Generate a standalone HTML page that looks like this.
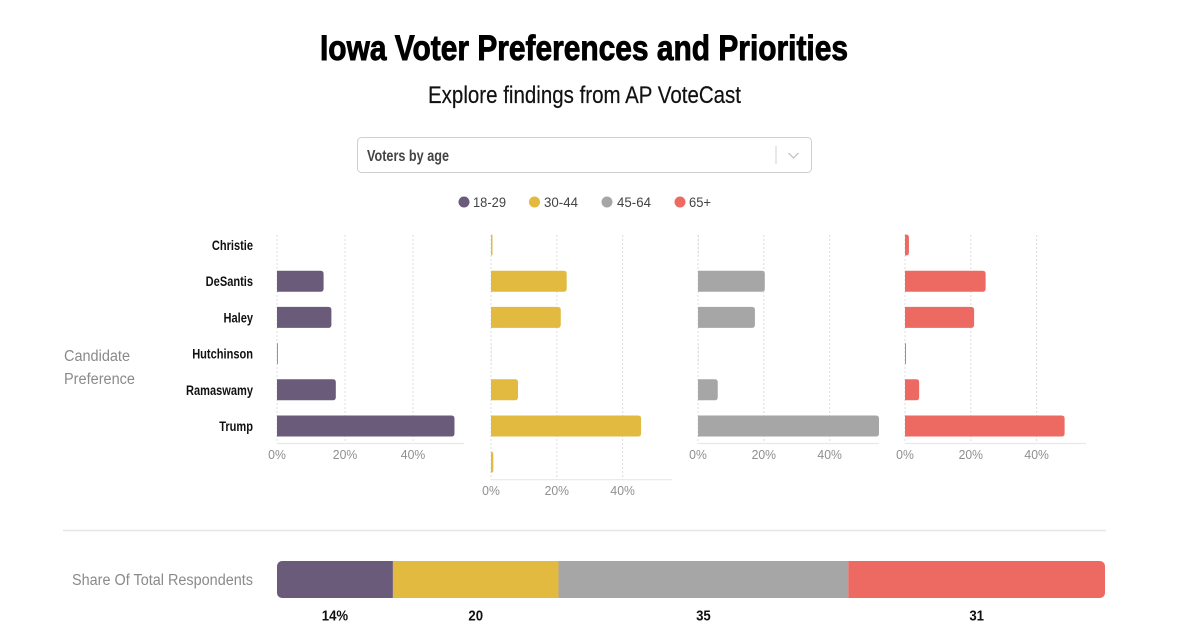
<!DOCTYPE html>
<html lang="en">
<head>
<meta charset="utf-8">
<title>Iowa Voter Preferences and Priorities</title>
<style>
html,body{margin:0;padding:0;background:#fff;width:1200px;height:636px;overflow:hidden}
svg{display:block;font-family:"Liberation Sans",sans-serif}
</style>
</head>
<body>
<svg id="chart" width="1200" height="636" viewBox="0 0 1200 636" xmlns="http://www.w3.org/2000/svg">
  <rect width="1200" height="636" fill="#fff"/>
  <text x="320" y="60" font-size="35" font-weight="700" fill="#000" stroke="#000" stroke-width=".9" textLength="528" lengthAdjust="spacingAndGlyphs">Iowa Voter Preferences and Priorities</text>
  <text x="428" y="103" font-size="24" fill="#111" stroke="#111" stroke-width=".2" textLength="313" lengthAdjust="spacingAndGlyphs">Explore findings from AP VoteCast</text>

  <g>
    <rect x="357.5" y="137.5" width="454" height="35" rx="4" fill="#fff" stroke="#cfcfcf"/>
    <text x="367" y="161" font-size="15.5" font-weight="700" fill="#444" textLength="82" lengthAdjust="spacingAndGlyphs">Voters by age</text>
    <line x1="776" x2="776" y1="146" y2="164" stroke="#d0d0d0"/>
    <path d="M788.5 153 L793.5 158 L798.5 153" fill="none" stroke="#c4c4c4" stroke-width="1.3"/>
  </g>

  <g>
    <g>
      <circle cx="464" cy="202" r="5.5" fill="#6a5b7b"/>
      <text x="473" y="207" font-size="14" fill="#444" textLength="33" lengthAdjust="spacingAndGlyphs">18-29</text>
    </g>
    <g>
      <circle cx="534.5" cy="202" r="5.5" fill="#e2ba3f"/>
      <text x="544" y="207" font-size="14" fill="#444" textLength="34" lengthAdjust="spacingAndGlyphs">30-44</text>
    </g>
    <g>
      <circle cx="607" cy="202" r="5.5" fill="#a6a6a6"/>
      <text x="617" y="207" font-size="14" fill="#444" textLength="34" lengthAdjust="spacingAndGlyphs">45-64</text>
    </g>
    <g>
      <circle cx="680" cy="202" r="5.5" fill="#ec6a61"/>
      <text x="689" y="207" font-size="14" fill="#444" textLength="22" lengthAdjust="spacingAndGlyphs">65+</text>
    </g>
  </g>

  <g font-size="15.5" fill="#8a8a8a">
    <text x="64" y="361" textLength="66" lengthAdjust="spacingAndGlyphs">Candidate</text>
    <text x="64" y="384" textLength="71" lengthAdjust="spacingAndGlyphs">Preference</text>
  </g>

  <g id="panels"></g>

  <line x1="63" x2="1106" y1="530.5" y2="530.5" stroke="#e6e6e6" stroke-width="1.5"/>

  <text x="72" y="585" font-size="15.5" fill="#8a8a8a" textLength="181" lengthAdjust="spacingAndGlyphs">Share Of Total Respondents</text>
  <clipPath id="shareClip"><rect x="277" y="561" width="828" height="37" rx="5"/></clipPath>
  <g id="share"></g>
</svg>

<script>
// ---- chart data ----
const categories = ["Christie", "DeSantis", "Haley", "Hutchinson", "Ramaswamy", "Trump"];
const groupNames = ["18-29", "30-44", "45-64", "65+"];
const values18to29 = [0, 13.7, 16, 0.2, 17.3, 52.2];
const values30to44 = [0.45, 23, 21.2, 0.05, 8.2, 45.6, 0.7];
const values45to64 = [0.05, 20.3, 17.3, 0.05, 6, 55];
const values65plus = [1.2, 24.5, 21, 0.3, 4.3, 48.5];
const tickValues = [0, 20, 40];
const shareValues = [14, 20, 35, 31];

// ---- styling and layout ----
const NS = "http://www.w3.org/2000/svg";
const palette = ["#6a5b7b", "#e2ba3f", "#a6a6a6", "#ec6a61"];
const allSeries = [values18to29, values30to44, values45to64, values65plus];
const panelLeft = [277, 491, 698, 905];
const panelWidth = [187, 181, 181, 181];
const domainMax = 55;
const rowTop = 245, rowStep = 36.2, barHeight = 21;
const shareLeft = 277, shareWidth = 828, shareTop = 561, shareHeight = 37;

function rowY(i) { return rowTop + i * rowStep; }
function xScale(p, v) { return panelLeft[p] + v / domainMax * panelWidth[p]; }
function svgEl(tag, attrs) {
  const el = document.createElementNS(NS, tag);
  for (const k in attrs) el.setAttribute(k, attrs[k]);
  return el;
}

const panelsRoot = document.getElementById("panels");

// candidate labels
categories.forEach(function (name, i) {
  const t = svgEl("text", {
    transform: "translate(253," + (rowY(i) + 5) + ") scale(.79,1)",
    "text-anchor": "end", "font-size": 14, "font-weight": 700, fill: "#111"
  });
  
  
  t.textContent = name;
  panelsRoot.appendChild(t);
});

allSeries.forEach(function (series, p) {
  const g = svgEl("g", {});
  
  
  panelsRoot.appendChild(g);

  const axisY = rowY(series.length - 1) + 17.5;

  tickValues.forEach(function (tick) {
    const x = xScale(p, tick);
    const grid = svgEl("line", {
      x1: x, x2: x, y1: 235, y2: axisY,
      stroke: "#dcdcdc", "stroke-width": 1, "stroke-dasharray": "2 2"
    });
    
    
    g.appendChild(grid);

    const label = svgEl("text", {
      transform: "translate(" + x + "," + (axisY + 15.5) + ") scale(.94,1)",
      "text-anchor": "middle", "font-size": 13, fill: "#8f8f8f"
    });
    
    
    label.textContent = tick + "%";
    g.appendChild(label);
  });

  const axis = svgEl("line", {
    x1: panelLeft[p], x2: panelLeft[p] + panelWidth[p], y1: axisY, y2: axisY,
    stroke: "#e8e8e8", "stroke-width": 1.2
  });
  
  
  g.appendChild(axis);

  series.forEach(function (v, i) {
    const x0 = xScale(p, 0);
    const w = xScale(p, v) - x0;
    const top = rowY(i) - barHeight / 2;
    const r = Math.min(3, w);
    const d = "M" + x0 + " " + top +
      " H" + (x0 + w - r) +
      " Q" + (x0 + w) + " " + top + " " + (x0 + w) + " " + (top + r) +
      " V" + (top + barHeight - r) +
      " Q" + (x0 + w) + " " + (top + barHeight) + " " + (x0 + w - r) + " " + (top + barHeight) +
      " H" + x0 + " Z";
    const bar = svgEl("path", { d: d, fill: palette[p] });
    
    
    g.appendChild(bar);
  });
});

// share stacked bar
const shareRoot = document.getElementById("share");
const shareTotal = shareValues.reduce(function (a, b) { return a + b; }, 0);
function shareX(v) { return shareLeft + v / shareTotal * shareWidth; }
let cumulative = 0;
shareValues.forEach(function (v, i) {
  const x = shareX(cumulative);
  const w = shareX(cumulative + v) - x;
  const seg = svgEl("rect", {
    x: x, y: shareTop, width: w, height: shareHeight,
    fill: palette[i], "clip-path": "url(#shareClip)"
  });
  
  
  shareRoot.appendChild(seg);

  const lab = svgEl("text", {
    transform: "translate(" + (x + w / 2) + ",620.5) scale(.88,1)",
    "text-anchor": "middle", "font-size": 15, "font-weight": 700, fill: "#111"
  });
  
  
  lab.textContent = i === 0 ? v + "%" : String(v);
  shareRoot.appendChild(lab);
  cumulative += v;
});
</script>
</body>
</html>
